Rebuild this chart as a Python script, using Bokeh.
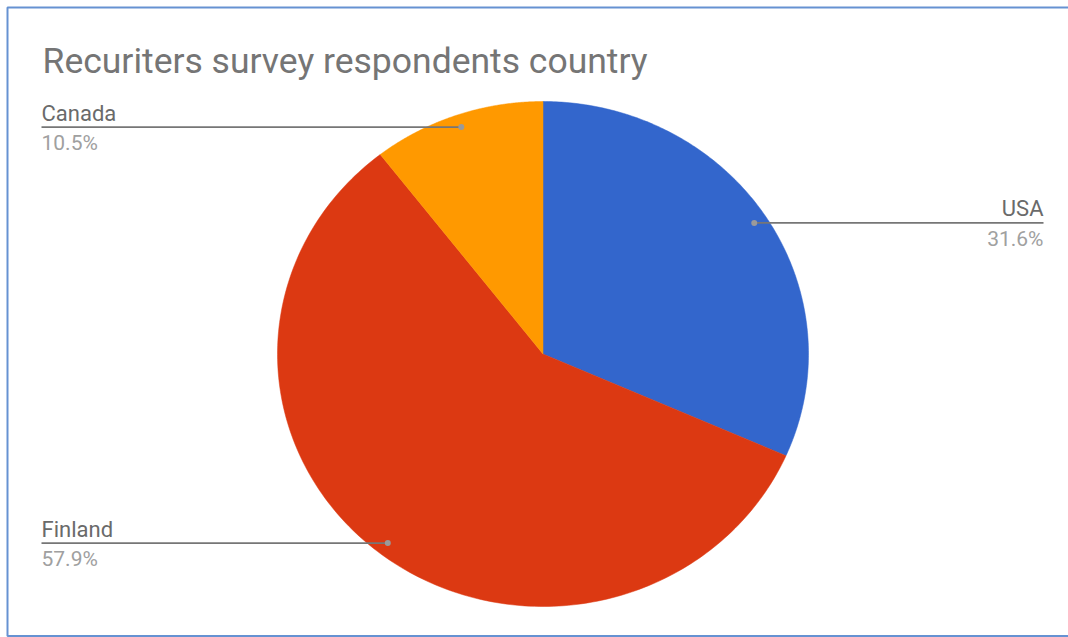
import numpy as np
from bokeh.plotting import figure
from bokeh.models import Range1d, Label
from bokeh.embed import file_html
from bokeh.resources import INLINE

# ---- data ----
title_text = "Recuriters survey respondents country"
countries = ["USA", "Finland", "Canada"]
shares = [31.6, 57.9, 10.5]
colors = ["#3366CC", "#DC3912", "#FF9900"]

W, H = 1068, 637
p = figure(width=W, height=H, output_backend="svg", toolbar_location=None,
           x_range=Range1d(0, W), y_range=Range1d(H, 0), min_border=0,
           background_fill_color="white", border_fill_color="white")
p.axis.visible = False
p.grid.visible = False
p.outline_line_color = None

# frame (left, top and bottom edges; right edge lies outside the picture)
fx0, fy0, fy1 = 7, 7, 635.5
p.line([W + 5, fx0, fx0, W + 5], [fy0, fy0, fy1, fy1], line_color="#6692d2",
       line_width=2)

# pie geometry (slightly stretched horizontally, as in the reference)
cx, cy, rx, ry = 542.5, 353.5, 265.5, 252.5
fracs = np.array(shares) / sum(shares)
ends = np.cumsum(fracs) * 2 * np.pi
starts = ends - fracs * 2 * np.pi

xs, ys = [], []
for a0, a1 in zip(starts, ends):
    t = np.linspace(a0, a1, 200)
    xs.append([cx] + list(cx + rx * np.sin(t)) + [cx])
    ys.append([cy] + list(cy - ry * np.cos(t)) + [cy])
p.patches(xs=xs, ys=ys, fill_color=colors, line_color=colors, line_width=0.5)

font = "Roboto"
name_color = "#6a6a6a"
pct_color = "#a0a0a0"
line_color = "#767676"

left_x, right_x = 41, 1043
for name, share, a0, a1 in zip(countries, shares, starts, ends):
    mid = (a0 + a1) / 2
    dx = float(cx + 0.95 * rx * np.sin(mid))
    dy = float(cy - 0.95 * ry * np.cos(mid))
    right_side = bool(np.sin(mid) > 0)
    ex = right_x if right_side else left_x
    p.line([dx, ex], [dy, dy], line_color=line_color, line_width=1.7)
    p.scatter([dx], [dy], size=6, fill_color="#9a9a9a", line_color=None)
    align = "right" if right_side else "left"
    p.add_layout(Label(x=ex, y=dy - 14, text=name, text_font=font, text_font_size="22px",
                       text_color=name_color, text_align=align, text_baseline="alphabetic"))
    p.add_layout(Label(x=ex, y=dy + 16, text=f"{share:.1f}%", text_font=font,
                       text_font_size="21px", text_color=pct_color, text_align=align,
                       text_baseline="alphabetic"))

p.add_layout(Label(x=42, y=60, text=title_text, text_font=font, text_font_size="35.5px",
                   text_color="#757575", text_baseline="alphabetic"))

open("out.html", "w").write(file_html(p, INLINE))
